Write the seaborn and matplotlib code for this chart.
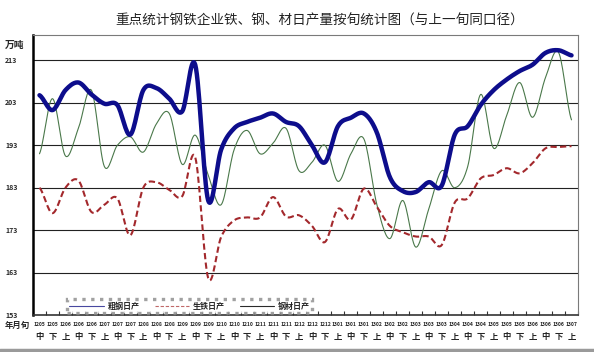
import numpy as np
import pandas as pd
import matplotlib
matplotlib.use("Agg")
import matplotlib.pyplot as plt
from matplotlib.lines import Line2D
import seaborn as sns

# 旬 labels (year+month / 上中下旬)
ym = ["1205", "1205", "1206", "1206", "1206", "1207", "1207", "1207", "1208", "1208",
      "1208", "1209", "1209", "1209", "1210", "1210", "1210", "1211", "1211", "1211",
      "1212", "1212", "1212", "1301", "1301", "1301", "1302", "1302", "1302", "1303",
      "1303", "1303", "1304", "1304", "1304", "1305", "1305", "1305", "1306", "1306",
      "1306", "1307"]
xun = ["中", "下"] + ["上", "中", "下"] * 13 + ["上"]

# 万吨 per day
crude_steel = [204.8, 201.3, 206.0, 207.8, 205.0, 202.8, 202.5, 195.5, 206.0, 206.5,
               204.0, 201.0, 212.0, 180.0, 192.0, 197.0, 198.5, 199.5, 200.5, 198.5,
               197.5, 193.0, 189.0, 197.5, 199.5, 200.5, 196.0, 185.5, 182.2, 182.0,
               184.3, 183.5, 195.5, 197.5, 202.5, 206.0, 208.5, 210.5, 212.0, 214.8,
               215.4, 214.2]
pig_iron = [183.0, 177.0, 183.0, 184.7, 177.3, 179.0, 180.5, 171.8, 183.0, 184.3,
            182.5, 181.0, 190.2, 161.7, 171.4, 175.3, 176.0, 176.0, 180.8, 176.2,
            176.5, 174.0, 170.2, 178.0, 175.5, 182.8, 178.5, 174.0, 172.5, 171.5,
            171.5, 169.5, 179.5, 180.5, 185.2, 186.0, 187.6, 186.4, 188.8, 192.3,
            192.6, 192.8]
steel_products = [191.0, 204.0, 190.5, 197.0, 206.0, 188.0, 193.0, 195.0, 191.4, 198.0,
                  200.5, 188.5, 195.4, 186.0, 179.0, 192.0, 196.5, 191.0, 193.5, 197.0,
                  187.0, 189.0, 193.0, 184.5, 191.0, 194.5, 179.0, 171.0, 180.0, 169.0,
                  178.0, 187.0, 183.0, 188.0, 205.0, 192.3, 200.0, 207.8, 199.6, 209.0,
                  214.9, 199.0]

yticks = [153, 163, 173, 183, 193, 203, 213]


def smooth(vals, n=16):
    # Excel-like smoothed line (Catmull-Rom through the read values)
    y = np.asarray(vals, float)
    p = np.r_[y[0], y, y[-1]]
    t = np.linspace(0, 1, n, endpoint=False)
    xs, ys = [], []
    for i in range(len(y) - 1):
        p0, p1, p2, p3 = p[i], p[i + 1], p[i + 2], p[i + 3]
        ys.append(0.5 * (2 * p1 + (-p0 + p2) * t + (2 * p0 - 5 * p1 + 4 * p2 - p3) * t ** 2
                         + (-p0 + 3 * p1 - 3 * p2 + p3) * t ** 3))
        xs.append(i + t)
    xs.append([len(y) - 1])
    ys.append([y[-1]])
    return np.concatenate(xs), np.concatenate(ys)


sns.set_theme(style="white")
plt.rcParams["font.family"] = ["Noto Sans CJK SC", "DejaVu Sans"]

fig = plt.figure(figsize=(5.94, 3.52), dpi=100)
ax = fig.add_axes([33 / 594, 1 - 315 / 352, 545 / 594, 280 / 352])

series = [("钢材日产", steel_products, "#4a784a", 0.8, "-"),
          ("生铁日产", pig_iron, "#a3282c", 1.5, (0, (3, 1.6))),
          ("粗钢日产", crude_steel, "#0d0d8c", 3.2, "-")]
for name, vals, color, lw, ls in series:
    xs, ys = smooth(vals)
    df = pd.DataFrame({"x": xs, "y": ys})
    sns.lineplot(data=df, x="x", y="y", ax=ax, color=color, linewidth=lw,
                 linestyle=ls, sort=False, estimator=None)

n = len(ym)
ax.set_xlim(-0.5, n - 0.5)
ax.set_ylim(153, 219)
ax.set_yticks(yticks)
ax.set_yticklabels([])
ax.set_xlabel("")
ax.set_ylabel("")
for v in yticks[1:]:
    ax.axhline(v, color="#222222", lw=0.8, zorder=0)

ax.set_xticks(np.arange(n))
ax.set_xticklabels([])
ax.set_xticks(np.arange(n + 1) - 0.5, minor=True)
ax.tick_params(axis="x", which="major", length=0)
ax.tick_params(axis="x", which="minor", direction="in", length=3, width=0.8,
               color="#333333", bottom=True)
ax.tick_params(axis="y", length=0)

for s in ["top", "right"]:
    ax.spines[s].set_color("#7a7a7a")
    ax.spines[s].set_linewidth(0.8)
ax.spines["left"].set_color("black")
ax.spines["left"].set_linewidth(1.8)
ax.spines["bottom"].set_color("#333333")
ax.spines["bottom"].set_linewidth(1.2)

# y tick labels at the far left
for v in yticks:
    ax.annotate(str(v), xy=(0, v), xycoords=("figure fraction", "data"),
                xytext=(5, 0), textcoords="offset pixels", ha="left", va="center",
                fontsize=5, fontweight="bold")
fig.text(5 / 594, 1 - 45 / 352, "万吨", fontsize=7, fontweight="bold", ha="left", va="center")
fig.text(5 / 594, 1 - 325 / 352, "年月旬", fontsize=6, fontweight="bold", ha="left", va="center")

# two-row category labels
for i in range(n):
    ax.annotate(ym[i], xy=(i, 0), xycoords=("data", "figure fraction"),
                xytext=(0, 352 - 325), textcoords="offset pixels",
                ha="center", va="center", fontsize=3.6, fontweight="bold")
    ax.annotate(xun[i], xy=(i, 0), xycoords=("data", "figure fraction"),
                xytext=(0, 352 - 337), textcoords="offset pixels",
                ha="center", va="center", fontsize=6, fontweight="bold")

fig.text(320 / 594, 1 - 21 / 352, "重点统计钢铁企业铁、钢、材日产量按旬统计图（与上一旬同口径）",
         fontsize=9.8, color="#222222", ha="center", va="center")

handles = [Line2D([], [], color="#4848a0", lw=0.8),
           Line2D([], [], color="#c06868", lw=0.8, ls=(0, (3, 1.6))),
           Line2D([], [], color="#2a2a2a", lw=0.8)]
leg = ax.legend(handles, ["粗钢日产", "生铁日产", "钢材日产"], ncol=3,
                loc="lower left", bbox_to_anchor=(34 / 545, 2 / 280),
                prop={"size": 5.8, "weight": "bold"}, frameon=True, fancybox=False,
                handlelength=4.3, handletextpad=0.4, columnspacing=1.9,
                borderpad=0.3, borderaxespad=0)
leg.get_frame().set_edgecolor("#8a8a8a")
leg.get_frame().set_linewidth(2.4)
leg.get_frame().set_linestyle(":")

fig.add_artist(Line2D([0, 1], [2 / 352, 2 / 352], color="#9a9a9a", lw=2.5))

fig.savefig("out.png", dpi=100, facecolor="white")
